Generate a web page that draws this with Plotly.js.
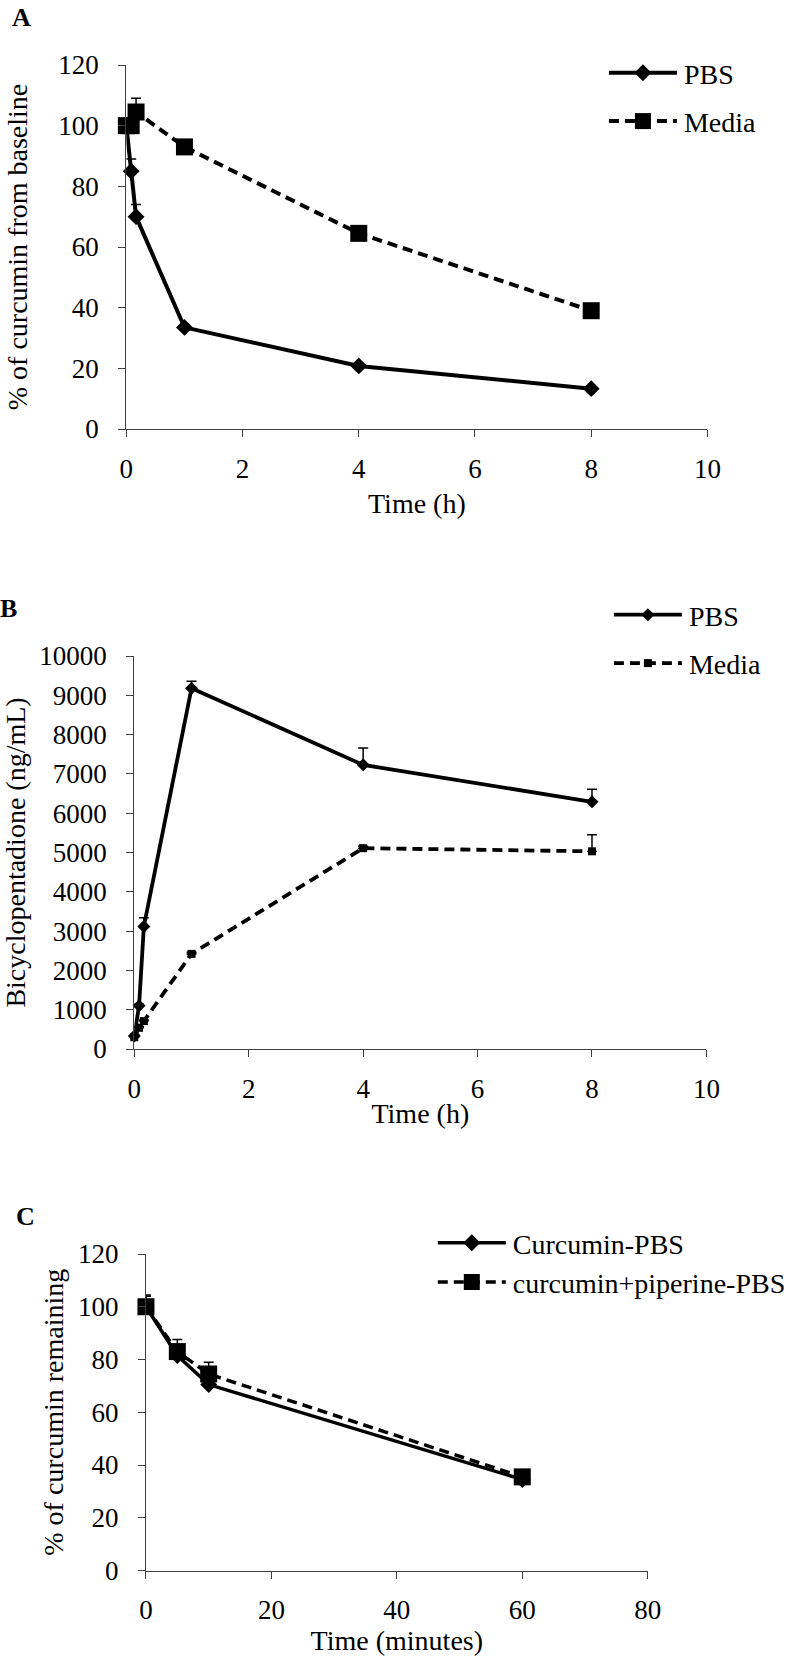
<!DOCTYPE html>
<html>
<head>
<meta charset="utf-8">
<script src="https://cdn.plot.ly/plotly-3.0.1.min.js"></script>
<style>
html, body { margin: 0; padding: 0; background: #fff; }
#chart { width: 791px; height: 1658px; }
</style>
</head>
<body>
<div id="chart"></div>
<script>
// ---------- Panel A: % of curcumin from baseline ----------
const timeA = [0, 0.083, 0.167, 1, 4, 8];
const pbsA = [100, 85, 70, 33.5, 20.8, 13.3];
const pbsAErr = [0, 4, 4, 0.5, 0.5, 0.5];
const mediaA = [100, 100, 104.5, 93, 64.5, 39];
const mediaAErr = [0, 0, 4.5, 0.5, 0.5, 0.5];
const ticksA_x = [0, 2, 4, 6, 8, 10];
const ticksA_y = [0, 20, 40, 60, 80, 100, 120];

// ---------- Panel B: Bicyclopentadione (ng/mL) ----------
const timeB = [0, 0.083, 0.167, 1, 4, 8];
const pbsB = [330, 1100, 3120, 9180, 7230, 6290];
const pbsBErr = [40, 40, 220, 180, 430, 320];
const mediaB = [300, 540, 710, 2420, 5110, 5030];
const mediaBErr = [30, 30, 30, 40, 50, 420];
const ticksB_x = [0, 2, 4, 6, 8, 10];
const ticksB_y = [0, 1000, 2000, 3000, 4000, 5000, 6000, 7000, 8000, 9000, 10000];

// ---------- Panel C: % of curcumin remaining ----------
const timeC = [0, 5, 10, 60];
const curPBS = [100, 81.5, 70.5, 34.5];
const curPBSErr = [4, 4, 4, 1.5];
const curPip = [100, 83, 74.5, 35.5];
const curPipErr = [4.5, 4.6, 4.5, 1.5];
const ticksC_x = [0, 20, 40, 60, 80];
const ticksC_y = [0, 20, 40, 60, 80, 100, 120];

const FONT = '"Liberation Serif", "Times New Roman", Times, serif';
const W = 791, H = 1658;
const px = v => v / W;
const py = v => 1 - v / H;
const ITEMW = 70;

function errUp(arr, w) {
  return {type: 'data', symmetric: false, array: arr,
          arrayminus: arr.map(() => 0), color: '#000', thickness: 1.5, width: w};
}

const traces = [
  {x: timeA, y: pbsA, name: 'PBS', mode: 'lines+markers', xaxis: 'x', yaxis: 'y',
   legend: 'legend', legendgroup: 'a1', cliponaxis: false,
   line: {color: '#000', width: 4},
   marker: {symbol: 'diamond', size: 13, color: '#000'},
   error_y: errUp(pbsAErr, 5)},
  {x: timeA, y: mediaA, name: 'Media', mode: 'lines+markers', xaxis: 'x', yaxis: 'y',
   legend: 'legend', legendgroup: 'a2', cliponaxis: false,
   line: {color: '#000', width: 4, dash: '10px,6px'},
   marker: {symbol: 'square', size: 17, color: '#000'},
   error_y: errUp(mediaAErr, 5)},

  {x: timeB, y: pbsB, name: 'PBS', mode: 'lines+markers', xaxis: 'x2', yaxis: 'y2',
   legend: 'legend2', legendgroup: 'b1', cliponaxis: false,
   line: {color: '#000', width: 3.8},
   marker: {symbol: 'diamond', size: 10, color: '#000'},
   error_y: errUp(pbsBErr, 5)},
  {x: timeB, y: mediaB, name: 'Media', mode: 'lines+markers', xaxis: 'x2', yaxis: 'y2',
   legend: 'legend2', legendgroup: 'b2', cliponaxis: false,
   line: {color: '#000', width: 3.8, dash: '10px,6px'},
   marker: {symbol: 'square', size: 8, color: '#000'},
   error_y: errUp(mediaBErr, 5)},

  {x: timeC, y: curPBS, name: 'Curcumin-PBS', mode: 'lines+markers', xaxis: 'x3', yaxis: 'y3',
   legend: 'legend3', cliponaxis: false,
   line: {color: '#000', width: 3.5},
   marker: {symbol: 'diamond', size: 13, color: '#000'},
   error_y: errUp(curPBSErr, 5)},
  {x: timeC, y: curPip, name: 'curcumin+piperine-PBS', mode: 'lines+markers', xaxis: 'x3', yaxis: 'y3',
   legend: 'legend3', cliponaxis: false,
   line: {color: '#000', width: 3.5, dash: '10px,6px'},
   marker: {symbol: 'square', size: 17, color: '#000'},
   error_y: errUp(curPipErr, 5)}
];

function xAxis(dom, anchor, range, ticks, title, standoff) {
  return {domain: dom, anchor: anchor, range: range, tickvals: ticks, tickformat: 'd',
          showgrid: false, zeroline: false, showline: true, linecolor: '#404040', linewidth: 1.3,
          ticks: 'outside', ticklen: 7, tickwidth: 1.3, tickcolor: '#404040',
          ticklabelstandoff: 8,
          tickfont: {family: FONT, size: 27, color: '#000'},
          automargin: false, fixedrange: true,
          title: {text: title, font: {family: FONT, size: 28, color: '#000'}, standoff: standoff}};
}
function yAxis(dom, anchor, range, ticks, title, standoff) {
  return {domain: dom, anchor: anchor, range: range, tickvals: ticks, tickformat: 'd',
          showgrid: false, zeroline: false, showline: true, linecolor: '#404040', linewidth: 1.3,
          ticks: 'outside', ticklen: 7, tickwidth: 1.3, tickcolor: '#404040',
          ticklabelstandoff: 14,
          tickfont: {family: FONT, size: 27, color: '#000'},
          automargin: false, fixedrange: true,
          title: {text: title, font: {family: FONT, size: 28, color: '#000'}, standoff: standoff}};
}

const legendFont = {family: FONT, size: 28, color: '#000'};

const layout = {
  width: W, height: H,
  margin: {l: 0, r: 0, t: 0, b: 0},
  paper_bgcolor: '#fff', plot_bgcolor: '#fff',
  showlegend: true,
  font: {family: FONT, color: '#000'},
  xaxis: xAxis([px(127), px(711)], 'y', [0, 10], ticksA_x, 'Time (h)', 10),
  yaxis: yAxis([py(429), py(65)], 'x', [0, 120], ticksA_y, '% of curcumin from baseline', 22),
  xaxis2: xAxis([px(135), px(710)], 'y2', [0, 10], ticksB_x, 'Time (h)', 0),
  yaxis2: yAxis([py(1049), py(656)], 'x2', [0, 10000], ticksB_y, 'Bicyclopentadione (ng/mL)', 16),
  xaxis3: xAxis([px(146.7), px(651)], 'y3', [0, 80], ticksC_x, 'Time (minutes)', 5),
  yaxis3: yAxis([py(1570.5), py(1254)], 'x3', [0, 120], ticksC_y, '% of curcumin remaining', 6),
  legend: {x: px(607), y: py(48), xanchor: 'left', yanchor: 'top', font: legendFont,
           bgcolor: 'rgba(0,0,0,0)', tracegroupgap: 9, itemwidth: ITEMW},
  legend2: {x: px(612), y: py(590), xanchor: 'left', yanchor: 'top', font: legendFont,
            bgcolor: 'rgba(0,0,0,0)', tracegroupgap: 9, itemwidth: ITEMW},
  legend3: {x: px(435), y: py(1218), xanchor: 'left', yanchor: 'top', font: legendFont,
            bgcolor: 'rgba(0,0,0,0)', itemwidth: ITEMW},
  annotations: [
    {text: '<b>A</b>', xref: 'paper', yref: 'paper', x: px(22), y: py(18), xanchor: 'center', yanchor: 'middle',
     showarrow: false, font: {family: FONT, size: 26, color: '#000'}},
    {text: '<b>B</b>', xref: 'paper', yref: 'paper', x: px(9), y: py(608), xanchor: 'center', yanchor: 'middle',
     showarrow: false, font: {family: FONT, size: 26, color: '#000'}},
    {text: '<b>C</b>', xref: 'paper', yref: 'paper', x: px(26), y: py(1216), xanchor: 'center', yanchor: 'middle',
     showarrow: false, font: {family: FONT, size: 26, color: '#000'}}
  ]
};

// Lengthen the legend line samples (Excel-style), keeping the marker centred on the line.
function styleLegendSamples(gd) {
  gd.querySelectorAll('g.traces').forEach(function (item) {
    item.querySelectorAll('.legendlines path').forEach(function (p) {
      p.setAttribute('d', 'M' + (ITEMW - 65) + ',0h68');
    });
    item.querySelectorAll('.legendpoints path').forEach(function (p) {
      p.setAttribute('transform', 'translate(' + (ITEMW - 31) + ',0)');
    });
  });
}

Plotly.newPlot('chart', traces, layout, {displayModeBar: false, responsive: false})
  .then(styleLegendSamples);
</script>
</body>
</html>
